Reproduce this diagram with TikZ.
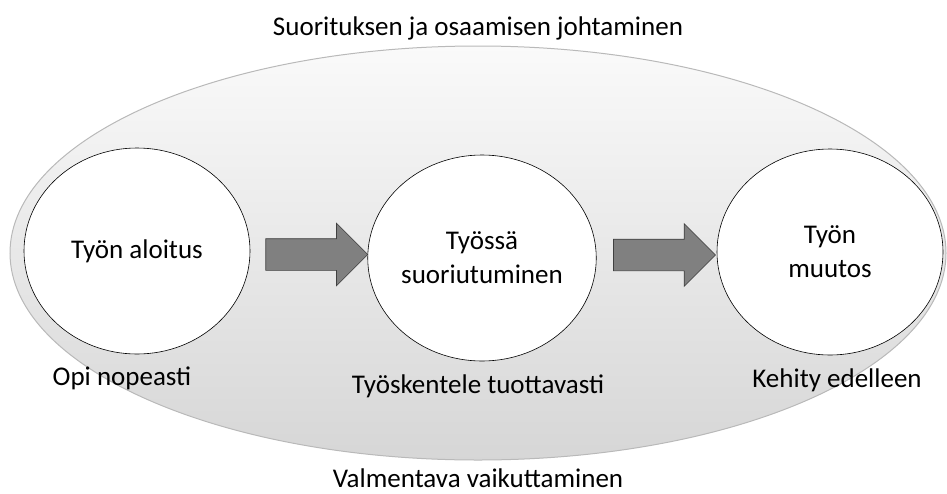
\documentclass[tikz,border=0pt]{standalone}
\usepackage{fontspec}
\setmainfont{Carlito}
\usetikzlibrary{shapes.geometric,shapes.arrows,calc}

\begin{document}
\begin{tikzpicture}[x=1pt,y=-1pt]
	\tikzstyle{every node}+=[font=\fontsize{27}{34}\selectfont]
	\tikzstyle{phase}=[draw=black, fill=white, ellipse, line width=0.6pt, minimum width=226pt, minimum height=206pt, align=center, inner sep=0pt]
	\tikzstyle{flow}=[single arrow, draw=black!75, fill=black!50, line width=0.6pt, minimum height=102pt, inner sep=15.5pt, single arrow head extend=15.5pt, single arrow head indent=0pt]
	\useasboundingbox (0,0) rectangle (947,493);
	\node [ellipse, draw=gray!55, line width=1pt, top color=gray!4, bottom color=gray!32, minimum width=936pt, minimum height=414pt] (frame) at (478,253) {};
	\node (lead) at (478,28) {Suorituksen ja osaamisen johtaminen};
	\node (coach) at (478,478) {Valmentava vaikuttaminen};
	\node [phase] (start) at (137,251) {Työn aloitus};
	\node [phase] (perform) at (482,258) {Työssä\\suoriutuminen};
	\node [phase] (change) at (830,252) {Työn\\muutos};
	\node [flow] (arr1) at ($(start.east)!0.5!(perform.west)$) {};
	\node [flow] (arr2) at ($(perform.east)!0.5!(change.west)$) {};
	\node (learn) at (122,378) {Opi nopeasti};
	\node (work) at (478,386) {Työskentele tuottavasti};
	\node (grow) at (837,380) {Kehity edelleen};
\end{tikzpicture}
\end{document}
